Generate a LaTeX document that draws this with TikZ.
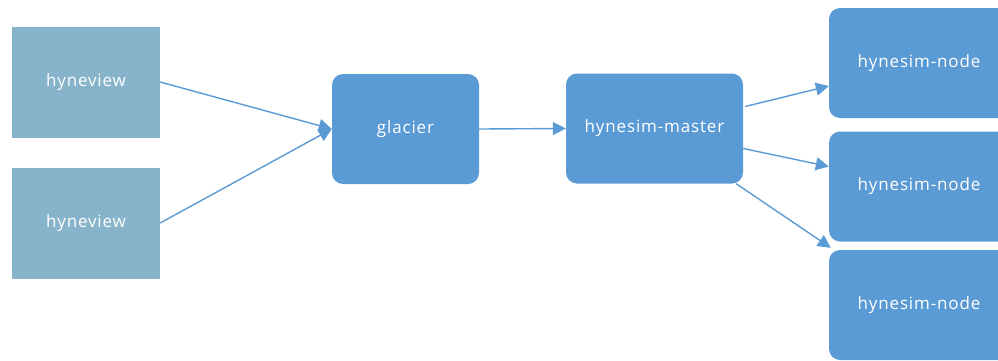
\documentclass[tikz,border=0pt]{standalone}
\usepackage{fontspec}
\setmainfont{Open Sans}[LetterSpace=5]
\usetikzlibrary{arrows.meta,calc}
\definecolor{viewfill}{RGB}{135,180,202}
\definecolor{boxblue}{RGB}{91,155,213}
\tikzset{
  labelfont/.style={font=\fontsize{17}{20}\selectfont},
  viewbox/.style={rectangle, fill=viewfill, draw=none, text=white,
    minimum width=148pt, minimum height=111pt, inner sep=0pt, labelfont},
  procbox/.style={rectangle, rounded corners=11pt, fill=boxblue, draw=none, text=white,
    minimum height=110pt, inner sep=0pt, labelfont},
  link/.style={draw=boxblue, line width=1.4pt,
    -{Triangle[length=13pt,width=13pt]}}
}
\begin{document}
\begin{tikzpicture}[x=1pt,y=-1pt]
  \useasboundingbox (0,0) rectangle (998,360);
  \clip (0,0) rectangle (998,360);

  % input viewers
  \node[viewbox] (hv1) at (86,82) {hyneview};
  \node[viewbox] (hv2) at (86,223) {hyneview};

  % central services
  \node[procbox, minimum width=147pt] (glacier) at (405.5,129) {glacier};
  \node[procbox, minimum width=177pt] (master) at (654.5,128.5) {hynesim-master};

  % simulation nodes (running off the right edge)
  \node[procbox, minimum width=180pt] (n1) at (919,63) {hynesim-node};
  \node[procbox, minimum width=180pt] (n2) at (919,186.5) {hynesim-node};
  \node[procbox, minimum width=180pt] (n3) at (919,305) {hynesim-node};

  % connectors
  \draw[link] (hv1.east) -- (glacier.west);
  \draw[link] (hv2.east) -- (glacier.west);
  \draw[link] (glacier.east) -- (master.west);
  \draw[link] ($(master.east)+(2,-22)$) -- ($(n1.west)+(0,23)$);
  \draw[link] ($(master.east)+(0,20)$) -- ($(n2.west)+(0,-20)$);
  \draw[link] ($(master.south east)+(-7,0)$) -- ($(n3.north west)+(2,-2)$);
\end{tikzpicture}
\end{document}
